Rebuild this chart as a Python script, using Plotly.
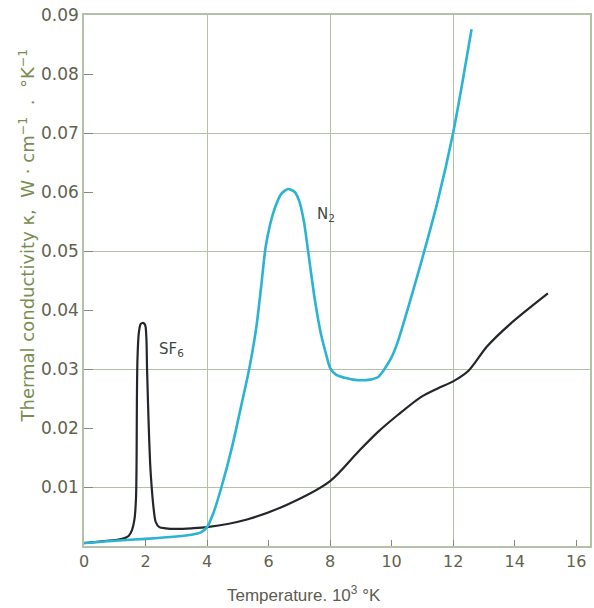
import plotly.graph_objects as go

# N2 curve (temperature in 10^3 K, conductivity W/cm/K)
n2_t = [0.0, 1.0, 2.0, 3.0, 3.5, 3.8, 4.0, 4.2, 4.47, 4.8, 5.1, 5.37, 5.6, 5.76, 5.9, 6.05, 6.2, 6.4, 6.63, 6.85, 7.0, 7.15, 7.28, 7.5, 7.7, 7.87, 8.0, 8.2, 8.48, 8.75, 9.0, 9.3, 9.55, 9.77, 10.0, 10.2, 10.6, 11.0, 11.5, 12.0, 12.3, 12.6]
n2_k = [0.0005, 0.0009, 0.0012, 0.0016, 0.0019, 0.0023, 0.0032, 0.0055, 0.0100, 0.0165, 0.0235, 0.0300, 0.0370, 0.0440, 0.0505, 0.0545, 0.0572, 0.0596, 0.0605, 0.0600, 0.0584, 0.0550, 0.0502, 0.0419, 0.0360, 0.0325, 0.0302, 0.0290, 0.0285, 0.0282, 0.0281, 0.0282, 0.0286, 0.0300, 0.0320, 0.0346, 0.0415, 0.0488, 0.0585, 0.0700, 0.0785, 0.0876]

# SF6 curve
sf6_t = [0.0, 0.6, 1.0, 1.24, 1.45, 1.56, 1.64, 1.69, 1.71, 1.72, 1.74, 1.78, 1.84, 1.9, 1.96, 2.0, 2.03, 2.05, 2.1, 2.15, 2.2, 2.26, 2.33, 2.45, 2.65, 3.0, 3.5, 4.0, 5.3, 6.6, 8.0, 8.9, 9.55, 10.2, 10.94, 11.5, 12.0, 12.5, 13.1, 13.85, 15.08]
sf6_k = [0.0005, 0.0008, 0.0010, 0.0012, 0.0017, 0.0027, 0.0045, 0.0080, 0.0150, 0.0250, 0.0320, 0.0360, 0.0376, 0.0378, 0.0377, 0.0372, 0.0350, 0.0300, 0.0210, 0.0140, 0.0100, 0.0065, 0.0041, 0.0032, 0.0030, 0.0029, 0.0030, 0.0032, 0.0045, 0.0070, 0.0110, 0.0159, 0.0193, 0.0222, 0.0252, 0.0267, 0.0279, 0.0297, 0.0338, 0.0376, 0.0428]

x_ticks = [0, 2, 4, 6, 8, 10, 12, 14, 16]
x_grid = [4, 8, 12]
y_ticks = [0.01, 0.02, 0.03, 0.04, 0.05, 0.06, 0.07, 0.08, 0.09]
y_grid = [0.01, 0.03, 0.05, 0.07]

label_color = "#62624e"
grid_color = "#b3c2a6"
font_main = "DejaVu Sans, Liberation Sans, Arial"

fig = go.Figure()
fig.add_trace(go.Scatter(x=sf6_t, y=sf6_k, mode="lines", line=dict(color="#23262a", width=2.2, shape="spline", smoothing=0.8), showlegend=False))
fig.add_trace(go.Scatter(x=n2_t, y=n2_k, mode="lines", line=dict(color="#2bb3d2", width=2.6, shape="spline", smoothing=0.7), showlegend=False))

fig.add_annotation(x=7.5, y=0.0562, text="N<sub>2</sub>", showarrow=False, xanchor="left",
                   font=dict(family=font_main, size=15, color="#3c4a40"))
fig.add_annotation(x=2.36, y=0.0333, text="SF<sub>6</sub>", showarrow=False, xanchor="left",
                   font=dict(family=font_main, size=15, color="#3c4a40"))

fig.add_annotation(xref="paper", yref="paper", x=-0.14, y=0.585, textangle=-90,
                   text="Thermal conductivity \u03ba,  W \u00b7 cm<sup>\u22121</sup>  .  \u00b0K<sup>\u22121</sup>",
                   showarrow=False, font=dict(family=font_main, size=18, color="#7a8c52"))
fig.add_annotation(xref="paper", yref="paper", x=0.435, y=-0.09, yanchor="middle",
                   text="Temperature. 10<sup>3</sup> \u00b0K",
                   showarrow=False, font=dict(family="Liberation Sans, Arial", size=17, color="#5c5c50"))

fig.update_layout(
    width=594, height=608,
    margin=dict(l=84, r=2, t=15, b=62),
    paper_bgcolor="white", plot_bgcolor="white",
    xaxis=dict(range=[0, 16.45], tickvals=x_ticks, ticktext=[str(v) for v in x_ticks],
               ticks="inside", ticklen=6, tickcolor="#8a8a7a", showgrid=False, zeroline=False,
               showline=True, linecolor=grid_color, linewidth=1.5, mirror=True,
               tickfont=dict(family=font_main, size=16, color=label_color),
               minor=dict(tickvals=x_grid, showgrid=True, gridcolor=grid_color, gridwidth=1.3, ticks="")),
    yaxis=dict(range=[0, 0.09], tickvals=y_ticks, ticktext=["%.2f" % v for v in y_ticks],
               ticks="inside", ticklen=9, tickcolor="#8a8a7a", showgrid=False, zeroline=False,
               showline=True, linecolor=grid_color, linewidth=1.5, mirror=True,
               tickfont=dict(family=font_main, size=17, color=label_color),
               minor=dict(tickvals=y_grid, showgrid=True, gridcolor=grid_color, gridwidth=1.3, ticks="")),
)

fig.write_html("out.html")
